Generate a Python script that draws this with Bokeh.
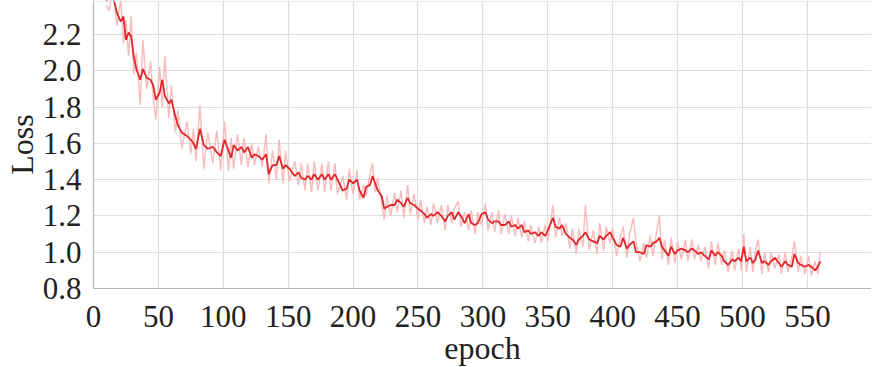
from bokeh.plotting import figure
from bokeh.models import Range1d, FixedTicker, NumeralTickFormatter, Span
from bokeh.embed import file_html
from bokeh.resources import INLINE

epoch = [10, 12, 15, 18, 21, 23, 25, 27, 29, 31, 33, 36, 38, 41, 44, 46, 48, 51, 53, 55,
         58, 60, 63, 65, 68, 72, 75, 77, 79, 82, 85, 88, 92, 95, 98, 101, 104, 106, 108, 111,
         114, 116, 119, 122, 124, 127, 130, 133, 135, 138, 141, 143, 146, 148, 151, 155, 158, 160, 163, 165,
         168, 170, 173, 176, 178, 181, 183, 186, 188, 192, 195, 197, 200, 203, 205, 208, 210, 213, 215, 217,
         219, 222, 224, 226, 229, 232, 234, 237, 239, 242, 244, 247, 250, 252, 255, 257, 260, 262, 265, 268,
         271, 273, 276, 278, 281, 283, 286, 289, 291, 294, 296, 299, 302, 304, 307, 309, 312, 314, 317, 320,
         322, 325, 327, 330, 332, 335, 337, 340, 343, 345, 348, 350, 354, 356, 359, 361, 364, 367, 369, 372,
         374, 377, 379, 382, 385, 388, 390, 393, 395, 398, 400, 403, 406, 408, 411, 413, 416, 418, 421, 424,
         426, 429, 431, 434, 436, 438, 440, 443, 445, 448, 450, 453, 456, 458, 461, 463, 466, 468, 471, 474,
         476, 479, 481, 484, 486, 489, 492, 494, 497, 499, 501, 503, 506, 508, 510, 512, 515, 517, 520, 522,
         525, 528, 530, 533, 535, 538, 540, 543, 545, 548, 551, 553, 556, 558, 560]

loss_smooth = [2.38, 2.42, 2.41, 2.32, 2.27, 2.30, 2.17, 2.21, 2.19, 2.08, 2.01, 1.95, 2.01, 1.96, 1.95, 1.92, 1.84, 1.88, 1.95, 1.86,
               1.82, 1.84, 1.75, 1.70, 1.66, 1.64, 1.62, 1.60, 1.57, 1.68, 1.59, 1.57, 1.58, 1.55, 1.53, 1.62, 1.56, 1.52, 1.59, 1.56,
               1.58, 1.55, 1.58, 1.52, 1.54, 1.53, 1.51, 1.54, 1.43, 1.48, 1.48, 1.53, 1.46, 1.48, 1.46, 1.42, 1.44, 1.41, 1.40, 1.42,
               1.40, 1.43, 1.40, 1.43, 1.40, 1.43, 1.40, 1.43, 1.40, 1.34, 1.35, 1.40, 1.38, 1.40, 1.34, 1.30, 1.36, 1.37, 1.42, 1.38,
               1.34, 1.31, 1.24, 1.25, 1.26, 1.26, 1.29, 1.27, 1.25, 1.30, 1.27, 1.26, 1.24, 1.23, 1.21, 1.19, 1.21, 1.20, 1.22, 1.20,
               1.17, 1.20, 1.22, 1.18, 1.22, 1.20, 1.16, 1.21, 1.16, 1.15, 1.16, 1.21, 1.22, 1.18, 1.16, 1.17, 1.17, 1.15, 1.15, 1.17,
               1.14, 1.15, 1.13, 1.15, 1.11, 1.12, 1.10, 1.11, 1.09, 1.11, 1.09, 1.12, 1.19, 1.14, 1.13, 1.15, 1.10, 1.08, 1.07, 1.04,
               1.07, 1.09, 1.11, 1.07, 1.06, 1.05, 1.09, 1.07, 1.09, 1.11, 1.08, 1.04, 1.03, 1.08, 1.02, 1.04, 1.06, 1.00, 1.00, 0.99,
               1.04, 1.03, 1.05, 1.06, 1.08, 1.03, 1.01, 0.98, 1.03, 0.99, 1.01, 1.02, 1.01, 1.00, 1.02, 1.01, 0.99, 1.00, 0.98, 0.96,
               1.01, 0.98, 1.00, 0.98, 0.95, 0.93, 0.96, 0.95, 0.97, 0.95, 1.03, 0.95, 0.97, 0.94, 0.96, 1.01, 0.94, 0.95, 0.93, 0.95,
               0.97, 0.94, 0.92, 0.95, 0.93, 0.92, 0.99, 0.94, 0.93, 0.92, 0.93, 0.92, 0.90, 0.92, 0.95]

loss_raw = [2.36, 2.33, 2.45, 2.25, 2.40, 2.15, 2.28, 2.08, 2.30, 1.98, 2.10, 1.81, 2.17, 1.90, 2.05, 1.85, 1.73, 2.02, 1.80, 2.08,
            1.74, 1.92, 1.66, 1.78, 1.57, 1.72, 1.54, 1.68, 1.50, 1.81, 1.46, 1.66, 1.49, 1.67, 1.45, 1.72, 1.45, 1.63, 1.46, 1.65,
            1.48, 1.63, 1.47, 1.60, 1.48, 1.58, 1.47, 1.65, 1.38, 1.56, 1.40, 1.62, 1.38, 1.56, 1.39, 1.50, 1.37, 1.49, 1.34, 1.49,
            1.33, 1.50, 1.34, 1.49, 1.33, 1.50, 1.34, 1.49, 1.32, 1.42, 1.29, 1.46, 1.32, 1.45, 1.29, 1.37, 1.31, 1.43, 1.49, 1.33,
            1.41, 1.27, 1.18, 1.31, 1.20, 1.33, 1.22, 1.34, 1.19, 1.37, 1.21, 1.32, 1.18, 1.29, 1.16, 1.25, 1.15, 1.27, 1.16, 1.26,
            1.12, 1.26, 1.16, 1.24, 1.28, 1.14, 1.22, 1.12, 1.23, 1.10, 1.22, 1.15, 1.27, 1.12, 1.22, 1.11, 1.23, 1.10, 1.21, 1.10,
            1.20, 1.09, 1.19, 1.08, 1.17, 1.06, 1.15, 1.05, 1.14, 1.05, 1.15, 1.06, 1.26, 1.08, 1.19, 1.09, 1.16, 1.02, 1.13, 0.99,
            1.13, 1.03, 1.26, 1.01, 1.12, 0.99, 1.16, 1.01, 1.14, 1.05, 1.13, 0.98, 1.09, 1.14, 0.97, 1.10, 1.19, 1.06, 0.95, 1.05,
            0.97, 1.09, 0.98, 1.12, 1.20, 0.96, 1.07, 0.93, 1.08, 0.94, 1.06, 0.96, 1.07, 0.95, 1.07, 0.96, 1.04, 0.95, 1.03, 0.91,
            1.06, 0.93, 1.05, 0.93, 1.01, 0.89, 1.01, 0.90, 1.02, 0.90, 1.10, 0.89, 1.03, 0.89, 1.01, 1.07, 0.88, 1.00, 0.89, 1.00,
            0.91, 0.99, 0.88, 1.00, 0.89, 0.97, 1.06, 0.89, 0.98, 0.88, 0.98, 0.87, 0.95, 0.88, 1.00]

x_ticks = [0, 50, 100, 150, 200, 250, 300, 350, 400, 450, 500, 550]
y_ticks = [0.8, 1.0, 1.2, 1.4, 1.6, 1.8, 2.0, 2.2]

FONT = "Liberation Serif"

p = figure(frame_width=778, frame_height=288, output_backend="svg", toolbar_location=None,
           x_range=Range1d(0, 599.4), y_range=Range1d(0.8, 2.387),
           min_border_left=10, min_border_right=0, min_border_top=0, min_border_bottom=10)
p.outline_line_color = None
p.background_fill_color = "white"

p.add_layout(Span(location=2.383, dimension="width", line_color="#e6e6e6", line_width=1.2))

p.line(epoch, loss_raw, line_color="#f5b3b3", line_width=1.5, line_alpha=0.85)
p.line(epoch, loss_smooth, line_color="#e3262a", line_width=1.8)

p.xaxis.ticker = FixedTicker(ticks=x_ticks)
p.yaxis.ticker = FixedTicker(ticks=y_ticks)
p.yaxis.formatter = NumeralTickFormatter(format="0.0")

for ax in (p.xaxis, p.yaxis):
    ax.axis_line_color = "#b5b5b5"
    ax.axis_line_width = 1.2
    ax.major_tick_line_color = None
    ax.minor_tick_line_color = None
    ax.major_label_text_font = FONT
    ax.major_label_text_font_size = "31px"
    ax.major_label_text_color = "#222222"
    ax.axis_label_text_font = FONT
    ax.axis_label_text_font_size = "32px"
    ax.axis_label_text_font_style = "normal"
    ax.axis_label_text_color = "#222222"

p.xaxis.axis_label = "epoch"
p.yaxis.axis_label = "Loss"
p.xaxis.major_label_standoff = 11
p.yaxis.major_label_standoff = 6
p.xaxis.axis_label_standoff = 0
p.yaxis.axis_label_standoff = 0

p.xgrid.grid_line_color = "#dddddd"
p.ygrid.grid_line_color = "#dddddd"
p.xgrid.grid_line_width = 1.2
p.ygrid.grid_line_width = 1.2

open("out.html", "w").write(file_html(p, INLINE))
